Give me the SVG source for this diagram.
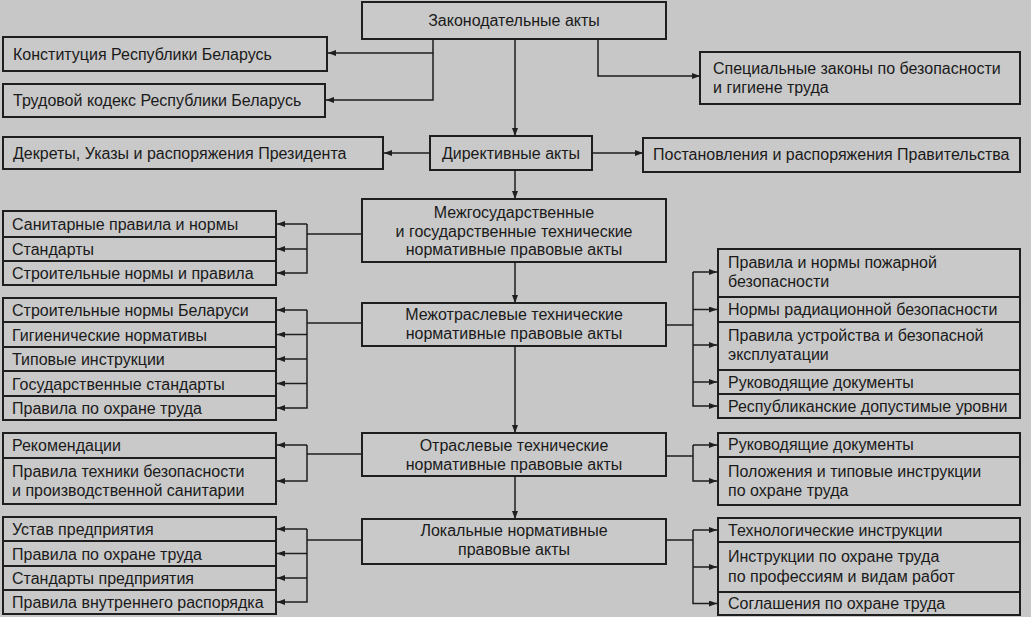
<svg xmlns="http://www.w3.org/2000/svg" width="1031" height="617" viewBox="0 0 1031 617">
<defs>
<marker id="ah" viewBox="0 0 8 6" refX="8" refY="3" markerWidth="8" markerHeight="6" markerUnits="userSpaceOnUse" orient="auto">
<path d="M0,0 L8,3 L0,6 Z" fill="#1e1e1e"/>
</marker>
<style>
rect{fill:#c9c9c9;stroke:#1e1e1e;stroke-width:2}
text{font-family:"Liberation Sans",Arial,sans-serif;font-size:16px;fill:#1a1a1a}
.c{text-anchor:middle}
#connectors path{fill:none;stroke:#1e1e1e;stroke-width:1.5}
.a{marker-end:url(#ah)}
</style>
</defs>
<rect x="0" y="0" width="1031" height="617" style="fill:#c7c7c7;stroke:none"/>

<g id="connectors">
<path class="a" d="M515,39 V136"/>
<path class="a" d="M515,170 V199"/>
<path class="a" d="M515,262 V303"/>
<path class="a" d="M515,346 V433"/>
<path class="a" d="M515,476 V519"/>
<path class="a" d="M433,39 V53 H328"/>
<path class="a" d="M433,53 V100 H326"/>
<path class="a" d="M598,39 V76 H700"/>
<path class="a" d="M430,153 H384"/>
<path class="a" d="M592,153 H643"/>
<path d="M362,234 H307"/>
<path class="a" d="M307,224 V273 H277"/>
<path class="a" d="M307,224 H277"/>
<path class="a" d="M307,249 H277"/>
<path d="M362,323 H307"/>
<path class="a" d="M307,310 V408 H277"/>
<path class="a" d="M307,310 H277"/>
<path class="a" d="M307,334.5 H277"/>
<path class="a" d="M307,359 H277"/>
<path class="a" d="M307,383.5 H277"/>
<path d="M362,454 H307"/>
<path class="a" d="M307,445 V481 H277"/>
<path class="a" d="M307,445 H277"/>
<path d="M362,540 H307"/>
<path class="a" d="M307,529 V602 H277"/>
<path class="a" d="M307,529 H277"/>
<path class="a" d="M307,553.5 H277"/>
<path class="a" d="M307,578 H277"/>
<path d="M666,325 H693"/>
<path class="a" d="M693,272 V406 H717"/>
<path class="a" d="M693,272 H717"/>
<path class="a" d="M693,309.5 H717"/>
<path class="a" d="M693,345 H717"/>
<path class="a" d="M693,382 H717"/>
<path d="M666,456 H693"/>
<path class="a" d="M693,445 V481 H717"/>
<path class="a" d="M693,445 H717"/>
<path d="M666,540 H693"/>
<path class="a" d="M693,530 V603.5 H717"/>
<path class="a" d="M693,530 H717"/>
<path class="a" d="M693,567 H717"/>
</g>

<g id="zakon"><rect x="362" y="2" width="304" height="37"/><text class="c" x="514" y="26">Законодательные акты</text></g>
<g id="konst"><rect x="3" y="37" width="324" height="34"/><text x="13" y="60">Конституция Республики Беларусь</text></g>
<g id="trud"><rect x="3" y="84" width="322" height="33"/><text x="13" y="106">Трудовой кодекс Республики Беларусь</text></g>
<g id="spec"><rect x="700" y="52" width="320" height="52"/><text x="713" y="74">Специальные законы по безопасности</text><text x="713" y="93">и гигиене труда</text></g>
<g id="direkt"><rect x="430" y="136" width="162" height="34"/><text class="c" x="511" y="159">Директивные акты</text></g>
<g id="dekrety"><rect x="3" y="137" width="380" height="32"/><text x="13" y="159">Декреты, Указы и распоряжения Президента</text></g>
<g id="postan"><rect x="643" y="138" width="377" height="34"/><text x="653" y="160">Постановления и распоряжения Правительства</text></g>

<g id="mezhgos"><rect x="362" y="199" width="304" height="63"/><text class="c" x="514" y="218">Межгосударственные</text><text class="c" x="514" y="237">и государственные технические</text><text class="c" x="514" y="255">нормативные правовые акты</text></g>
<g id="l1a"><rect x="3" y="211" width="273" height="26"/><text x="12" y="230">Санитарные правила и нормы</text></g>
<g id="l1b"><rect x="3" y="237" width="273" height="24"/><text x="12" y="255">Стандарты</text></g>
<g id="l1c"><rect x="3" y="261" width="273" height="24"/><text x="12" y="279">Строительные нормы и правила</text></g>

<g id="mezhotr"><rect x="362" y="303" width="304" height="43"/><text class="c" x="514" y="320">Межотраслевые технические</text><text class="c" x="514" y="339">нормативные правовые акты</text></g>
<g id="l2a"><rect x="3" y="298" width="273" height="24"/><text x="12" y="316">Строительные нормы Беларуси</text></g>
<g id="l2b"><rect x="3" y="322" width="273" height="25"/><text x="12" y="341">Гигиенические нормативы</text></g>
<g id="l2c"><rect x="3" y="347" width="273" height="24"/><text x="12" y="365">Типовые инструкции</text></g>
<g id="l2d"><rect x="3" y="371" width="273" height="25"/><text x="12" y="390">Государственные стандарты</text></g>
<g id="l2e"><rect x="3" y="396" width="273" height="24"/><text x="12" y="414">Правила по охране труда</text></g>
<g id="r1a"><rect x="718" y="249" width="302" height="48"/><text x="728" y="268">Правила и нормы пожарной</text><text x="728" y="287">безопасности</text></g>
<g id="r1b"><rect x="718" y="297" width="302" height="25"/><text x="728" y="315">Нормы радиационной безопасности</text></g>
<g id="r1c"><rect x="718" y="322" width="302" height="48"/><text x="728" y="341">Правила устройства и безопасной</text><text x="728" y="360">эксплуатации</text></g>
<g id="r1d"><rect x="718" y="370" width="302" height="24"/><text x="728" y="388">Руководящие документы</text></g>
<g id="r1e"><rect x="718" y="394" width="302" height="24"/><text x="728" y="412">Республиканские допустимые уровни</text></g>

<g id="otrasl"><rect x="362" y="433" width="304" height="43"/><text class="c" x="514" y="451">Отраслевые технические</text><text class="c" x="514" y="470">нормативные правовые акты</text></g>
<g id="l3a"><rect x="3" y="433" width="273" height="25"/><text x="12" y="451">Рекомендации</text></g>
<g id="l3b"><rect x="3" y="458" width="273" height="46"/><text x="12" y="477">Правила техники безопасности</text><text x="12" y="496">и производственной санитарии</text></g>
<g id="r2a"><rect x="718" y="433" width="302" height="24"/><text x="728" y="450">Руководящие документы</text></g>
<g id="r2b"><rect x="718" y="457" width="302" height="48"/><text x="728" y="477">Положения и типовые инструкции</text><text x="728" y="496">по охране труда</text></g>

<g id="lokal"><rect x="362" y="519" width="304" height="45"/><text class="c" x="514" y="536">Локальные нормативные</text><text class="c" x="514" y="555">правовые акты</text></g>
<g id="l4a"><rect x="3" y="517" width="273" height="24"/><text x="12" y="535">Устав предприятия</text></g>
<g id="l4b"><rect x="3" y="541" width="273" height="25"/><text x="12" y="560">Правила по охране труда</text></g>
<g id="l4c"><rect x="3" y="566" width="273" height="24"/><text x="12" y="584">Стандарты предприятия</text></g>
<g id="l4d"><rect x="3" y="590" width="273" height="24"/><text x="12" y="608">Правила внутреннего распорядка</text></g>
<g id="r3a"><rect x="718" y="518" width="302" height="24"/><text x="728" y="536">Технологические инструкции</text></g>
<g id="r3b"><rect x="718" y="542" width="302" height="50"/><text x="728" y="562">Инструкции по охране труда</text><text x="728" y="582">по профессиям и видам работ</text></g>
<g id="r3c"><rect x="718" y="592" width="302" height="23"/><text x="728" y="609">Соглашения по охране труда</text></g>
</svg>
